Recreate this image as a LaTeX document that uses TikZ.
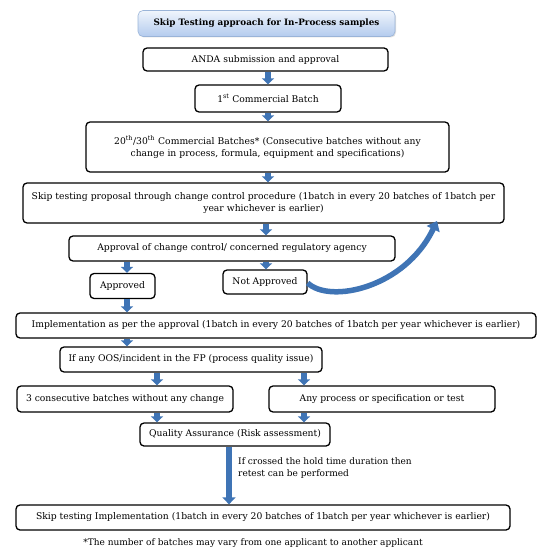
\documentclass[tikz,border=0pt]{standalone}
\usepackage{fontspec}
\setmainfont{DejaVu Serif}
\usetikzlibrary{arrows.meta,shadows,calc}
\definecolor{arrowblue}{HTML}{3F74B5}
\definecolor{titletop}{HTML}{F0F5FC}
\definecolor{titlebot}{HTML}{B3CBEE}
\definecolor{titleedge}{HTML}{9AB4D8}
\tikzset{
  flowbox/.style={draw=black, line width=1.3pt, rounded corners=4pt, fill=white, align=center, inner sep=1pt, font=\fontsize{9.2}{12}\selectfont},
  titlebox/.style={draw=titleedge, line width=0.6pt, rounded corners=5pt, top color=titletop, bottom color=titlebot, drop shadow={opacity=0.25, shadow xshift=1pt, shadow yshift=-1pt}, font=\fontsize{8.8}{11}\selectfont\bfseries},
  blockarrow/.style={draw=arrowblue, line width=5.5pt, -{Triangle[width=12pt,length=6pt]}},
  bigarrow/.style={draw=arrowblue, line width=6.5pt, -{Triangle[width=13pt,length=7pt]}},
  plaintext/.style={font=\fontsize{9}{12}\selectfont, inner sep=0pt}
}
\begin{document}
\begin{tikzpicture}[x=1pt,y=-1pt]
\useasboundingbox (0,0) rectangle (544,559);
\node[titlebox, minimum width=257pt, minimum height=26pt] (title) at (266.5,23.5) {Skip Testing approach for In-Process samples};
\node[flowbox, minimum width=245pt, minimum height=23pt] (anda) at (265.5,59.5) {ANDA submission and approval};
\node[flowbox, minimum width=146pt, minimum height=27pt] (first) at (268,98.5) {1\textsuperscript{st} Commercial Batch};
\node[flowbox, minimum width=363pt, minimum height=50pt, text width=360pt] (twenty) at (267.5,147) {20\textsuperscript{th}/30\textsuperscript{th} Commercial Batches* (Consecutive batches without any\\ change in process, formula, equipment and specifications)};
\node[flowbox, minimum width=481pt, minimum height=40pt, text width=478pt] (skip) at (263.5,203) {Skip testing proposal through change control procedure (1batch in every 20 batches of 1batch per\\ year whichever is earlier)};
\node[flowbox, minimum width=326pt, minimum height=25pt] (approval) at (232,248.5) {Approval of change control/ concerned regulatory agency};
\node[flowbox, minimum width=65pt, minimum height=25pt] (approved) at (122.5,286) {Approved};
\node[flowbox, minimum width=84pt, minimum height=24pt] (na) at (265,282) {Not Approved};
\node[flowbox, minimum width=520pt, minimum height=25pt] (impl) at (276,325.5) {Implementation as per the approval (1batch in every 20 batches of 1batch per year whichever is earlier)};
\node[flowbox, minimum width=262pt, minimum height=25pt] (oos) at (191,359.5) {If any OOS/incident in the FP (process quality issue)};
\node[flowbox, minimum width=216pt, minimum height=26pt] (three) at (125,399) {3 consecutive batches without any change};
\node[flowbox, minimum width=226pt, minimum height=26pt] (any) at (382,399) {Any process or specification or test};
\node[flowbox, minimum width=190pt, minimum height=23pt] (qa) at (235,434.5) {Quality Assurance (Risk assessment)};
\node[flowbox, minimum width=494pt, minimum height=25pt] (skipimpl) at (263,517.5) {Skip testing Implementation (1batch in every 20 batches of 1batch per year whichever is earlier)};
\node[plaintext] (foot) at (253,543) {*The number of batches may vary from one applicant to another applicant};
\node[plaintext, anchor=north west, align=left] (holdlabel) at (238,457) {If crossed the hold time duration then\\ retest can be performed};
\coordinate (xa) at (127,0);
\coordinate (xb) at (157,0);
\coordinate (xc) at (304,0);
\coordinate (xd) at (266,0);
\coordinate (xe) at (268,0);
\coordinate (xf) at (229,0);
\coordinate (curvetip) at (437,221);
\draw[blockarrow] (anda.south -| xe) -- (first.north -| xe);
\draw[blockarrow] (first.south -| xe) -- (twenty.north -| xe);
\draw[blockarrow] (twenty.south -| xe) -- (skip.north -| xe);
\draw[blockarrow] (skip.south -| xd) -- (approval.north -| xd);
\draw[blockarrow] (approval.south -| xa) -- (approved.north -| xa);
\draw[blockarrow] (approval.south -| xd) -- (na.north -| xd);
\draw[blockarrow] (approved.south -| xa) -- (impl.north -| xa);
\draw[blockarrow] (impl.south -| xa) -- (oos.north -| xa);
\draw[blockarrow] (oos.south -| xb) -- (three.north -| xb);
\draw[blockarrow] (oos.south -| xc) -- (any.north -| xc);
\draw[blockarrow] (three.south -| xb) -- (qa.north -| xb);
\draw[blockarrow] (any.south -| xc) -- (qa.north -| xc);
\draw[bigarrow] (qa.south -| xf) -- (skipimpl.north -| xf);
\draw[draw=arrowblue, line width=5.5pt, -{Triangle[width=14pt,length=9pt]}] ([yshift=-1pt]na.east) .. controls (330,304) and (405,288) .. (curvetip);
\end{tikzpicture}
\end{document}
